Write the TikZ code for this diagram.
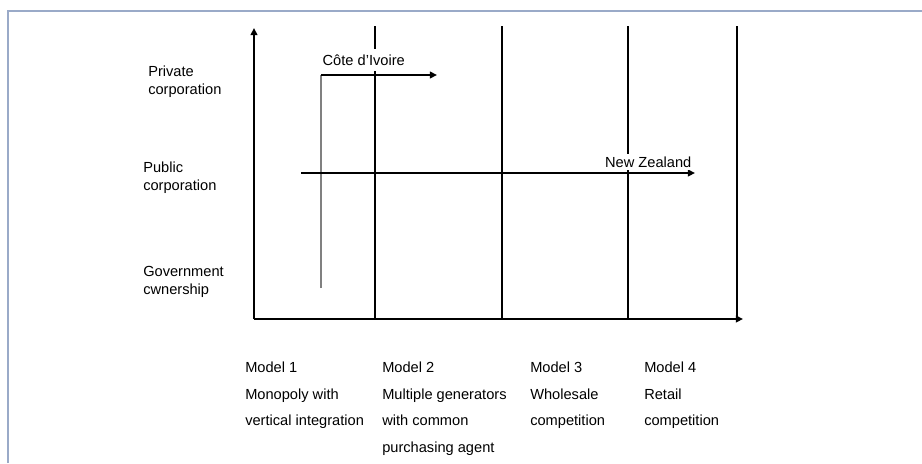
\documentclass[tikz,border=0pt]{standalone}
\usepackage{fontspec}
\setmainfont{Liberation Sans}
\usetikzlibrary{
    arrows.meta,
    positioning
}
\definecolor{framegray}{HTML}{9AAAC8}
\tikzset{
    every picture/.style = {
        > = {Triangle[length = 0.18cm, width = 0.17cm]}
    },
    axis/.style = {line width = 1.4pt, ->},
    stage/.style = {line width = 0.9pt},
    trend/.style = {line width = 1.3pt, ->},
    txt/.style = {
        inner sep = 0pt,
        align = left,
        font = \fontsize{10.4}{12.8}\selectfont
    },
    tag/.style = {
        txt,
        fill = white,
        inner xsep = 1pt
    },
    model/.style = {
        txt,
        anchor = north west,
        font = \fontsize{10.4}{18.8}\selectfont
    }
}

\begin{document}
\begin{tikzpicture}[x = 0.025cm, y = 0.025cm]
    \useasboundingbox (0, 0) rectangle (922, 463);
    % frame
    \coordinate (fb) at (8, 0);
    \coordinate (fc) at (8, 452);
    \coordinate (fr) at (922, 452);
    \draw[framegray, line width = 1pt] (fb) -- (fc) -- (fr);

    % axes
    \coordinate (O) at (254, 144);
    \coordinate (ytop) at (254, 435);
    \coordinate (xend) at (743, 144);
    \draw[axis] (O) -- (ytop);
    \draw[axis] (O) -- (xend);

    % model boundaries
    \foreach \x [count = \i] in {375, 502, 628, 737} {
        \coordinate (b\i) at (\x, 144);
        \coordinate (t\i) at (\x, 437);
        \draw[stage] (b\i) -- (t\i);
    }

    % ownership levels
    \node[txt, anchor = north west] (priv) at (148, 397) {Private\\corporation};
    \node[txt, anchor = north west] (pub) at (143, 301) {Public\\corporation};
    \node[txt, anchor = north west] (gov) at (143, 197) {Government\\cwnership};

    % models
    \node[model] (m1) at (245, 101) {Model 1\\Monopoly with\\vertical integration};
    \node[model] (m2) at (382, 101) {Model 2\\Multiple generators\\with common\\purchasing agent};
    \node[model] (m3) at (530, 101) {Model 3\\Wholesale\\competition};
    \node[model] (m4) at (644, 101) {Model 4\\Retail\\competition};

    % Cote d'Ivoire
    \coordinate (ci0) at (321, 175);
    \coordinate (ci1) at (321, 388);
    \coordinate (ci2) at (437, 388);
    \draw[gray, line width = 1pt] (ci0) -- (ci1);
    \draw[trend] (ci1) -- (ci2);
    \node[tag, inner ysep = 4pt, anchor = base west] (ci) at (321, 398) {Côte d’Ivoire};

    % New Zealand
    \coordinate (nz0) at (301, 290);
    \coordinate (nz1) at (695, 290);
    \draw[trend] (nz0) -- (nz1);
    \node[tag, inner ysep = 2pt, anchor = base east] (nz) at (693, 296) {New Zealand};
\end{tikzpicture}
\end{document}
